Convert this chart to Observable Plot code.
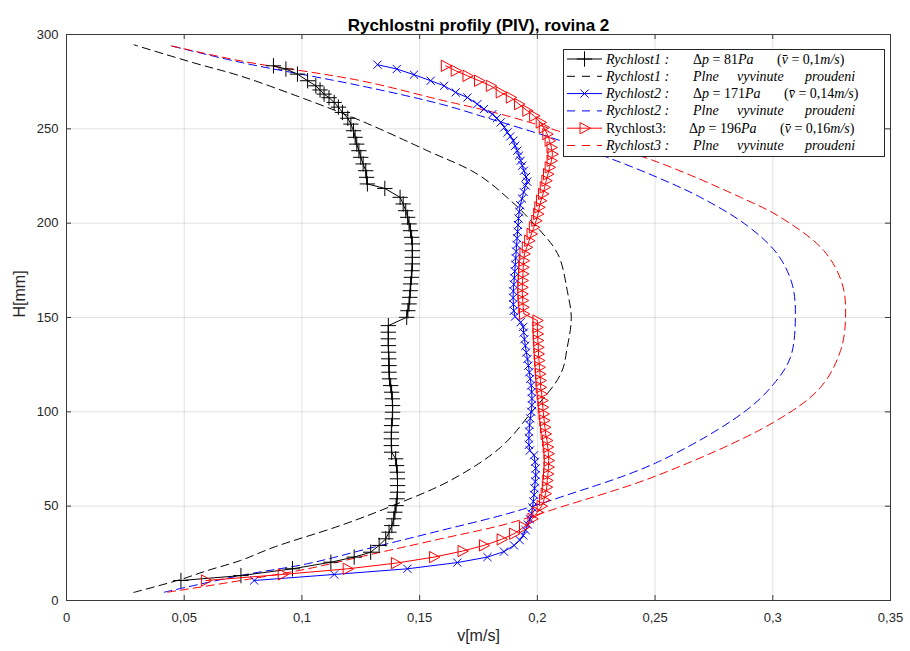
<!DOCTYPE html>
<html><head><meta charset="utf-8">
<script src="https://cdn.jsdelivr.net/npm/d3@7"></script>
<script src="https://cdn.jsdelivr.net/npm/@observablehq/plot@0.6"></script>
<style>body{margin:0;background:#fff;} #chart{width:910px;height:651px;}</style>
</head><body><div id="chart"></div>
<script>
// ---------- tick values / labels ----------
const xTicks = [0, 0.05, 0.1, 0.15, 0.2, 0.25, 0.3, 0.35];
const xTickLabels = ["0", "0,05", "0,1", "0,15", "0,2", "0,25", "0,3", "0,35"];
const yTicks = [0, 50, 100, 150, 200, 250, 300];

// ---------- texts ----------
const titleText = "Rychlostni profily (PIV), rovina 2";
const xLabel = "v[m/s]";
const yLabel = "H[mm]";
const seriesNames = ["Rychlost1", "Rychlost2", "Rychlost3"];
const pressures = ["81", "171", "196"];
const meanVelocities = ["0,1", "0,14", "0,16"];
const idealWords = ["Plne", "vyvinute", "proudeni"];

// ---------- measured profile 1 (black, +) ----------
const meas1H = [10.6,13.2,16.8,20.3,23.0,25.6,29.2,32.7,36.2,39.7,43.3,46.8,50.3,53.9,57.4,60.9,64.5,68.0,71.5,75.1,78.6,82.1,85.7,89.2,92.7,96.3,99.8,103.3,106.9,110.4,113.9,117.5,121.0,124.5,128.1,131.6,135.1,138.7,142.2,145.7,150.1,153.6,157.2,160.7,164.2,167.8,171.3,174.8,178.4,181.9,185.4,189.0,192.5,196.0,199.6,203.1,206.6,210.2,213.7,218.4,220.8,224.3,227.8,231.4,234.9,238.4,241.9,245.5,249.0,252.5,255.6,258.7,261.5,264.0,266.5,268.4,270.6,272.8,275.5,279.0,281.7,283.4];
const meas1V = [0.0486,0.0741,0.0960,0.1123,0.1222,0.1292,0.1328,0.1356,0.1370,0.1382,0.1390,0.1395,0.1400,0.1404,0.1406,0.1406,0.1406,0.1405,0.1402,0.1398,0.1381,0.1380,0.1380,0.1380,0.1381,0.1384,0.1385,0.1385,0.1384,0.1381,0.1377,0.1372,0.1370,0.1370,0.1369,0.1368,0.1367,0.1367,0.1367,0.1367,0.1445,0.1450,0.1455,0.1458,0.1460,0.1462,0.1465,0.1467,0.1469,0.1469,0.1469,0.1469,0.1466,0.1461,0.1455,0.1449,0.1441,0.1430,0.1417,0.1352,0.1278,0.1275,0.1271,0.1260,0.1250,0.1242,0.1233,0.1226,0.1219,0.1208,0.1195,0.1172,0.1155,0.1137,0.1115,0.1094,0.1077,0.1059,0.1024,0.0981,0.0932,0.0879];

// ---------- measured profile 2 (blue, x) ----------
const meas2H = [10.6,13.8,16.8,20.1,23.0,25.9,29.2,32.0,34.5,37.3,40.2,43.1,46.0,49.3,52.5,56.0,59.5,63.0,66.5,70.0,73.5,77.0,79.5,82.5,86.0,89.5,93.0,96.5,100.0,103.5,107.0,110.5,114.0,117.5,121.0,124.5,128.0,131.5,135.0,138.5,142.0,145.0,147.5,150.5,153.5,157.0,160.5,164.0,167.5,171.0,174.5,178.0,181.5,185.0,188.5,192.0,195.5,199.0,202.5,206.0,209.5,213.0,216.5,220.0,222.0,224.5,227.8,230.5,233.1,235.8,238.4,241.0,243.7,246.0,248.1,250.8,253.4,255.6,257.8,260.5,263.1,266.6,269.3,272.8,275.5,278.7,281.7,284.0];
const meas2V = [0.0797,0.1137,0.1448,0.1660,0.1788,0.1858,0.1901,0.1925,0.1940,0.1950,0.1960,0.1968,0.1975,0.1979,0.1983,0.1986,0.1988,0.1991,0.1993,0.1993,0.1990,0.1986,0.1968,0.1964,0.1964,0.1965,0.1967,0.1970,0.1974,0.1977,0.1977,0.1976,0.1974,0.1970,0.1966,0.1962,0.1958,0.1953,0.1949,0.1945,0.1942,0.1940,0.1929,0.1905,0.1900,0.1898,0.1897,0.1898,0.1900,0.1902,0.1904,0.1906,0.1908,0.1910,0.1912,0.1914,0.1916,0.1918,0.1920,0.1923,0.1927,0.1935,0.1942,0.1950,0.1957,0.1952,0.1943,0.1936,0.1929,0.1922,0.1915,0.1906,0.1898,0.1885,0.1873,0.1860,0.1844,0.1828,0.1809,0.1773,0.1745,0.1703,0.1653,0.1604,0.1547,0.1476,0.1403,0.1321];

// ---------- measured profile 3 (red, triangle) ----------
const meas3H = [10.6,13.8,16.8,19.8,23.0,26.2,29.2,32.4,35.4,38.9,43.3,46.8,50.0,53.3,56.6,60.1,63.6,67.1,70.7,74.2,77.8,81.3,84.8,88.3,91.8,95.4,98.9,102.4,106.0,109.5,113.0,116.6,120.1,123.6,127.2,130.7,134.2,137.8,141.3,144.8,148.4,151.9,155.4,159.0,162.5,166.0,169.6,173.1,176.6,180.1,183.7,187.2,190.7,194.3,197.8,201.3,204.9,208.4,211.9,215.5,219.0,222.5,226.0,229.6,233.1,236.6,240.1,243.7,247.2,250.7,253.4,256.9,259.6,263.1,266.6,269.3,272.8,275.5,278.1,280.8,283.4];
const meas3V = [0.0592,0.0918,0.1194,0.1399,0.1561,0.1682,0.1773,0.1848,0.1901,0.1943,0.1979,0.2000,0.2018,0.2028,0.2035,0.2040,0.2042,0.2045,0.2047,0.2048,0.2047,0.2044,0.2041,0.2035,0.2032,0.2029,0.2026,0.2023,0.2021,0.2018,0.2014,0.2013,0.2011,0.2009,0.2007,0.2005,0.2004,0.2002,0.2001,0.2000,0.2000,0.1943,0.1940,0.1938,0.1936,0.1936,0.1937,0.1939,0.1940,0.1942,0.1945,0.1955,0.1965,0.1975,0.1985,0.1995,0.2003,0.2008,0.2015,0.2024,0.2031,0.2038,0.2045,0.2052,0.2060,0.2064,0.2060,0.2052,0.2042,0.2027,0.2014,0.1986,0.1957,0.1922,0.1887,0.1844,0.1802,0.1752,0.1703,0.1653,0.1611];

// ---------- fully developed profiles (dashed) ----------
const ideal1H = [4.3,11.1,15.9,21.2,28.3,39.8,49.8,63.6,81.2,99.0,120.0,134.2,150.0,164.2,180.0,187.2,199.6,211.9,226.0,238.4,254.3,266.7,278.0,285.0,294.5];
const ideal1V = [0.0286,0.0484,0.0599,0.0739,0.0882,0.1165,0.1376,0.1630,0.1844,0.1970,0.2099,0.2127,0.2144,0.2127,0.2099,0.2070,0.1986,0.1887,0.1745,0.1533,0.1250,0.0994,0.0739,0.0540,0.0287];
const ideal2H = [4.4,13.3,19.5,28.3,37.1,46.0,54.8,73.3,99.8,114.8,128.9,150.1,167.8,183.7,198.7,213.7,224.3,234.9,243.7,255.2,263.1,272.8,285.2,294.0];
const ideal2V = [0.0415,0.0741,0.1024,0.1306,0.1590,0.1873,0.2099,0.2510,0.2877,0.3004,0.3075,0.3096,0.3082,0.3019,0.2891,0.2693,0.2509,0.2297,0.2099,0.1802,0.1590,0.1250,0.0741,0.0444];
const ideal3H = [4.4,10.6,16.8,24.8,32.7,40.7,49.5,66.3,94.5,113.0,132.5,150.1,167.8,185.4,203.1,213.7,233.1,249.0,257.8,265.3,275.5,286.0,294.0];
const ideal3V = [0.0430,0.0741,0.1024,0.1306,0.1590,0.1873,0.2099,0.2510,0.3004,0.3203,0.3288,0.3309,0.3295,0.3217,0.3033,0.2863,0.2495,0.2085,0.1844,0.1590,0.1250,0.0741,0.0444];

const rows = (H, V) => H.map((h, i) => ({h, v: V[i]}));
const meas1 = rows(meas1H, meas1V), meas2 = rows(meas2H, meas2V), meas3 = rows(meas3H, meas3V);
const ideal1 = rows(ideal1H, ideal1V), ideal2 = rows(ideal2H, ideal2V), ideal3 = rows(ideal3H, ideal3V);

// right-pointing open triangle (MATLAB '>')
const triRight = {draw(ctx, size) {
  const s = Math.sqrt(size) * 0.62;
  ctx.moveTo(s, 0); ctx.lineTo(-s * 0.75, s * 0.95); ctx.lineTo(-s * 0.75, -s * 0.95); ctx.closePath();
}};

const W = 910, H = 651, mL = 66, mR = 20, mT = 34, mB = 51;
const pw = W - mL - mR, ph = H - mT - mB;
const dash = "8,5";
const gridStyle = {stroke: "#000", strokeOpacity: 0.12, strokeWidth: 1};
const axisColor = "#3a3a3a";

const plot = Plot.plot({
  width: W, height: H,
  marginLeft: mL, marginRight: mR, marginTop: mT, marginBottom: mB,
  style: {fontFamily: "'Liberation Sans', Arial, sans-serif", fontSize: "13px", background: "#fff", color: "#262626", overflow: "visible"},
  x: {domain: [0, 0.35]},
  y: {domain: [0, 300]},
  marks: [
    Plot.gridX(xTicks, gridStyle),
    Plot.gridY(yTicks, gridStyle),
    // inward ticks on all four sides
    Plot.tickX(xTicks, {x: d => d, insetTop: ph - 5, stroke: axisColor}),
    Plot.tickX(xTicks, {x: d => d, insetBottom: ph - 5, stroke: axisColor}),
    Plot.tickY(yTicks, {y: d => d, insetRight: pw - 5, stroke: axisColor}),
    Plot.tickY(yTicks, {y: d => d, insetLeft: pw - 5, stroke: axisColor}),
    // fully developed profiles
    Plot.line(ideal1, {x: "v", y: "h", stroke: "#000", strokeWidth: 1, strokeDasharray: dash, curve: "catmull-rom"}),
    Plot.line(ideal2, {x: "v", y: "h", stroke: "#0000ff", strokeWidth: 1, strokeDasharray: dash, curve: "catmull-rom"}),
    Plot.line(ideal3, {x: "v", y: "h", stroke: "#ff0000", strokeWidth: 1, strokeDasharray: dash, curve: "catmull-rom"}),
    // measured profiles
    Plot.line(meas1, {x: "v", y: "h", stroke: "#000", strokeWidth: 1}),
    Plot.dot(meas1, {x: "v", y: "h", symbol: "plus", r: 5, stroke: "#000", strokeWidth: 1}),
    Plot.line(meas2, {x: "v", y: "h", stroke: "#0000ff", strokeWidth: 1}),
    Plot.dot(meas2, {x: "v", y: "h", symbol: "times", r: 3.8, stroke: "#0000ff", strokeWidth: 1}),
    Plot.line(meas3, {x: "v", y: "h", stroke: "#ff0000", strokeWidth: 1}),
    Plot.dot(meas3, {x: "v", y: "h", symbol: triRight, r: 5.4, stroke: "#ff0000", fill: "none", strokeWidth: 1}),
    Plot.frame({stroke: axisColor, strokeWidth: 1}),
    Plot.axisX(xTicks, {tickSize: 0, tickPadding: 12, tickFormat: (d, i) => xTickLabels[i], label: null, fontSize: 13}),
    Plot.axisY(yTicks, {tickSize: 0, tickPadding: 8, label: null, fontSize: 13}),
    Plot.text([xLabel], {frameAnchor: "bottom", dy: 40, text: d => d, fontSize: 16}),
    Plot.text([yLabel], {frameAnchor: "left", dx: -47, rotate: -90, text: d => d, fontSize: 16}),
    Plot.text([titleText], {frameAnchor: "top", dy: -16, text: d => d, fontSize: 17, fontWeight: "bold", fill: "#000"})
  ]
});
document.getElementById("chart").appendChild(plot);

// ---------- legend ----------
const svg = d3.select(plot);
const lg = svg.append("g").attr("font-family", "'Liberation Serif', 'Times New Roman', serif")
  .attr("font-size", 14).attr("fill", "#000").attr("text-anchor", "start");
lg.append("rect").attr("x", 563.5).attr("y", 49.5).attr("width", 321).attr("height", 107)
  .attr("fill", "#fff").attr("stroke", "#262626").attr("stroke-width", 1);

const entries = [
  {color: "#000000", dashed: false, sym: d3.symbolPlus, size: 80, name: seriesNames[0], p: pressures[0], vm: meanVelocities[0], col3: 777},
  {color: "#000000", dashed: true, name: seriesNames[0]},
  {color: "#0000ff", dashed: false, sym: d3.symbolTimes, size: 45, name: seriesNames[1], p: pressures[1], vm: meanVelocities[1], col3: 784},
  {color: "#0000ff", dashed: true, name: seriesNames[1]},
  {color: "#ff0000", dashed: false, sym: triRight, size: 92, name: seriesNames[2], p: pressures[2], vm: meanVelocities[2], col3: 780, upright: true},
  {color: "#ff0000", dashed: true, name: seriesNames[2]}
];

function addSegs(textSel, segs) {
  segs.forEach(([t, it]) => textSel.append("tspan").attr("font-style", it ? "italic" : "normal").text(t));
}

entries.forEach((e, i) => {
  const y = 59 + i * 17.3;
  lg.append("line").attr("x1", 567).attr("x2", 602).attr("y1", y).attr("y2", y)
    .attr("stroke", e.color).attr("stroke-width", 1).attr("stroke-dasharray", e.dashed ? "8,7" : null);
  if (e.sym) {
    lg.append("path").attr("d", d3.symbol(e.sym, e.size)()).attr("transform", `translate(584.5,${y})`)
      .attr("fill", "none").attr("stroke", e.color).attr("stroke-width", 1);
  }
  const base = y + 4.5;
  if (e.upright) {
    lg.append("text").attr("x", 606).attr("y", base).text(e.name + ":");
  } else {
    lg.append("text").attr("x", 606).attr("y", base).attr("font-style", "italic").text(e.name + " :");
  }
  if (e.dashed) {
    const xs = [693, 737, 805];
    idealWords.forEach((w, k) => lg.append("text").attr("x", xs[k]).attr("y", base).attr("font-style", "italic").text(w));
  } else {
    const t2 = lg.append("text").attr("x", e.upright ? 689 : 693).attr("y", base);
    addSegs(t2, [["Δ", false], ["p", true], [" = ", false], [e.p, false], ["Pa", true]]);
    const t3 = lg.append("text").attr("x", e.col3).attr("y", base);
    addSegs(t3, [["(", false], ["v\u0304", true], [" = ", false], [e.vm, false], ["m/s", true], [")", false]]);
  }
});
</script>
</body></html>
